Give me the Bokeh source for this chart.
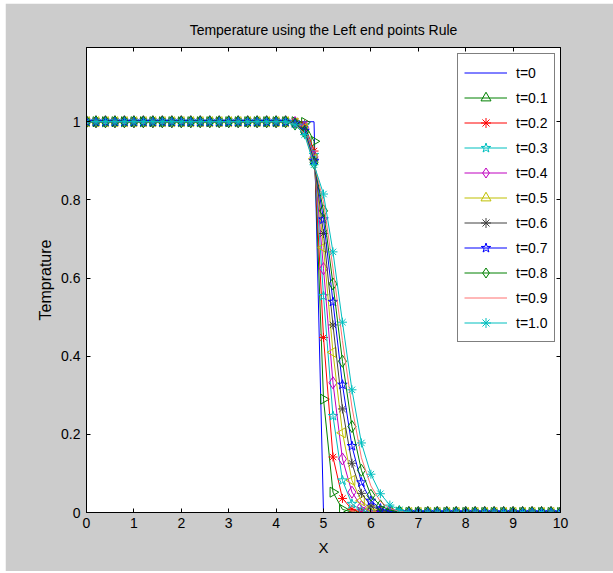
import math
from bokeh.plotting import figure
from bokeh.models import (Range1d, LinearAxis, FixedTicker, NumeralTickFormatter, Legend,
                          CustomJSTickFormatter)
from bokeh.embed import file_html
from bokeh.resources import INLINE

# ---- data ----
x_vals = [round(0.2 * i, 1) for i in range(51)]  # 0, 0.2, ... 10

t00 = [1.0] * 25 + [0.0] * 26
t01 = [1.0] * 22 + [1.0, 0.998, 0.95, 0.29, 0.052, 0.008, 0.001, 0.0, 0.0, 0.0, 0.0, 0.0] + [0.0] * 17
t02 = [1.0] * 22 + [1.0, 0.994, 0.925, 0.448, 0.142, 0.036, 0.008, 0.001, 0.0, 0.0, 0.0, 0.0] + [0.0] * 17
t03 = [1.0] * 22 + [0.999, 0.99, 0.915, 0.554, 0.247, 0.082, 0.022, 0.005, 0.001, 0.0, 0.0, 0.0] + [0.0] * 17
t04 = [1.0] * 22 + [0.998, 0.986, 0.91, 0.624, 0.332, 0.137, 0.052, 0.015, 0.004, 0.001, 0.0, 0.0] + [0.0] * 17
t05 = [1.0] * 22 + [0.997, 0.983, 0.905, 0.678, 0.41, 0.204, 0.082, 0.03, 0.01, 0.003, 0.001, 0.0] + [0.0] * 17
t06 = [1.0] * 22 + [0.996, 0.98, 0.90, 0.714, 0.48, 0.265, 0.126, 0.049, 0.017, 0.005, 0.001, 0.0] + [0.0] * 17
t07 = [1.0] * 22 + [0.995, 0.977, 0.90, 0.75, 0.539, 0.327, 0.17, 0.077, 0.03, 0.01, 0.003, 0.001] + [0.0] * 17
t08 = [1.0] * 22 + [0.994, 0.974, 0.895, 0.772, 0.585, 0.387, 0.22, 0.108, 0.044, 0.017, 0.006, 0.002] + [0.0] * 17
t09 = [1.0] * 22 + [0.993, 0.97, 0.893, 0.795, 0.625, 0.44, 0.27, 0.14, 0.068, 0.028, 0.01, 0.003] + [0.0] * 17
t10 = [1.0] * 22 + [0.992, 0.967, 0.89, 0.815, 0.667, 0.487, 0.314, 0.178, 0.098, 0.048, 0.019, 0.007] + [0.0] * 17

labels = ["t=0", "t=0.1", "t=0.2", "t=0.3", "t=0.4", "t=0.5", "t=0.6", "t=0.7", "t=0.8", "t=0.9", "t=1.0"]
series = [t00, t01, t02, t03, t04, t05, t06, t07, t08, t09, t10]
colors = ["#0000ff", "#008000", "#ff0000", "#00bfbf", "#bf00bf", "#bfbf00",
          "#404040", "#0000ff", "#008000", "#ff7070", "#00bfbf"]
markers = [None, "triangle", "asterisk", "star", "diamond", "triangle",
           "asterisk", "star", "diamond", None, "asterisk"]
angles = [0, -math.pi / 2, 0, 0, 0, math.pi / 2, 0, 0, 0, 0, 0]
msizes = [0, 10, 9, 10, 12, 10, 9, 10, 12, 0, 9]

x_ticks = list(range(0, 11))
y_ticks = [0, 0.2, 0.4, 0.6, 0.8, 1]

FONT = "Liberation Sans"
GRAY = "#cccccc"

p = figure(width=608, height=568, output_backend="svg", toolbar_location=None,
           x_range=Range1d(0, 10), y_range=Range1d(0, 1.19),
           min_border_left=81, min_border_right=53, min_border_top=44, min_border_bottom=59,
           background_fill_color="white", border_fill_color=GRAY,
           title="Temperature using the Left end points Rule")
p.margin = (3, 0, 2, 5)
p.grid.visible = False
p.outline_line_color = "black"
p.outline_line_width = 1

p.title.align = "center"
p.title.text_font = FONT
p.title.text_font_size = "14px"
p.title.text_font_style = "normal"
p.title.text_color = "black"
p.title.standoff = 20

for ax in (p.xaxis[0], p.yaxis[0]):
    ax.major_label_text_font = FONT
    ax.major_label_text_font_size = "14px"
    ax.major_label_text_color = "black"
    ax.axis_label_text_font = FONT
    ax.axis_label_text_font_style = "normal"
    ax.axis_label_text_color = "black"
    ax.major_tick_in = 4
    ax.major_tick_out = 0
    ax.minor_tick_in = 0
    ax.minor_tick_out = 0
    ax.axis_line_color = "black"
    ax.major_tick_line_color = "black"

p.xaxis[0].axis_label_text_font_size = "15px"
p.yaxis[0].axis_label_text_font_size = "16px"
p.xaxis[0].ticker = FixedTicker(ticks=x_ticks)
p.yaxis[0].ticker = FixedTicker(ticks=y_ticks)
p.yaxis[0].formatter = NumeralTickFormatter(format="0.[0]")
p.xaxis[0].axis_label = "X"
p.yaxis[0].axis_label = "Temprature"
p.xaxis[0].major_label_standoff = 5
p.yaxis[0].major_label_standoff = 6
p.xaxis[0].axis_label_standoff = 8
p.yaxis[0].axis_label_standoff = 4

blank = CustomJSTickFormatter(code="return ''")
top_ax = LinearAxis(ticker=FixedTicker(ticks=x_ticks), formatter=blank,
                    major_tick_in=4, major_tick_out=0, minor_tick_in=0, minor_tick_out=0,
                    major_label_standoff=0, axis_line_color="black")
right_ax = LinearAxis(ticker=FixedTicker(ticks=y_ticks), formatter=blank,
                      major_tick_in=4, major_tick_out=0, minor_tick_in=0, minor_tick_out=0,
                      major_label_standoff=0, axis_line_color="black")
p.add_layout(top_ax, "above")
p.add_layout(right_ax, "right")

items = []
for lab, ys, col, mk, ang, ms in zip(labels, series, colors, markers, angles, msizes):
    rs = []
    r = p.line(x_vals, ys, line_color=col, line_width=1)
    rs.append(r)
    if mk is not None:
        m = p.scatter(x_vals, ys, marker=mk, size=ms, angle=ang, line_color=col,
                      fill_color=None, line_width=1)
        rs.append(m)
    items.append((lab, rs))

legend = Legend(items=items, location=(371, 170),
                label_text_font=FONT, label_text_font_size="14px", label_text_color="black",
                border_line_color="black", border_line_width=1,
                background_fill_color="white", background_fill_alpha=1.0,
                glyph_width=43, glyph_height=25, label_height=25, label_width=32,
                label_standoff=9, spacing=0, padding=6, margin=0)
p.add_layout(legend, "center")

open("out.html", "w").write(file_html(p, INLINE))
